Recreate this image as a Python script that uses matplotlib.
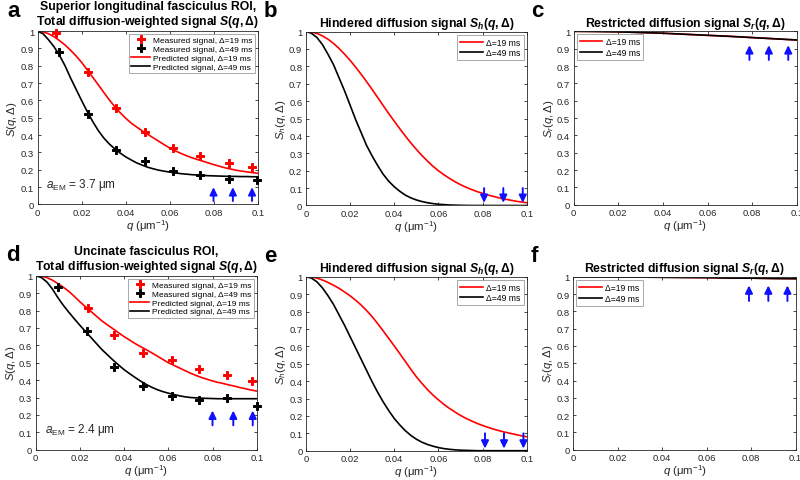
import matplotlib
matplotlib.use("Agg")
import matplotlib.pyplot as plt

plt.rcParams['font.family'] = ['Liberation Sans', 'DejaVu Sans']
plt.rcParams['mathtext.fontset'] = 'custom'
plt.rcParams['mathtext.rm'] = 'Liberation Sans'
plt.rcParams['mathtext.it'] = 'Liberation Sans:italic'
plt.rcParams['mathtext.bf'] = 'Liberation Sans:bold'
plt.rcParams['mathtext.bfit'] = 'Liberation Sans:bold:italic'

# ---------------- data ----------------
q_curve = [0, .0025, .005, .0075, .01, .0125, .015, .0175, .02, .0225, .025,
           .0275, .03, .0325, .035, .0375, .04, .0425, .045, .0475, .05,
           .0525, .055, .0575, .06, .0625, .065, .0675, .07, .0725, .075,
           .0775, .08, .0825, .085, .0875, .09, .0925, .095, .0975, .1]
q_coarse = [0, .01, .02, .03, .04, .05, .06, .07, .08, .09, .1]

# Panel a: superior longitudinal fasciculus
a_meas_q19 = [0.0082, 0.0229, 0.0355, 0.0486, 0.0617, 0.0739, 0.0869, 0.0975]
a_meas_S19 = [0.988, 0.763, 0.555, 0.418, 0.327, 0.282, 0.242, 0.218]
a_meas_q49 = [0.0098, 0.0227, 0.0355, 0.0486, 0.0617, 0.0739, 0.0869, 0.0996]
a_meas_S49 = [0.877, 0.524, 0.312, 0.253, 0.192, 0.168, 0.147, 0.142]
a_pred19 = [1.0, 0.996, 0.985, 0.968, 0.945, 0.92, 0.89, 0.857, 0.82, 0.778, 0.735,
            0.692, 0.648, 0.605, 0.565, 0.53, 0.498, 0.47, 0.447, 0.425, 0.405,
            0.385, 0.365, 0.345, 0.326, 0.31, 0.295, 0.282, 0.27, 0.26, 0.25,
            0.24, 0.23, 0.221, 0.212, 0.205, 0.198, 0.193, 0.188, 0.184, 0.18]
a_pred49 = [1.0, 0.985, 0.95, 0.91, 0.86, 0.80, 0.73, 0.665, 0.60, 0.538, 0.48,
            0.428, 0.385, 0.35, 0.322, 0.297, 0.275, 0.257, 0.24, 0.227, 0.215,
            0.206, 0.198, 0.192, 0.187, 0.182, 0.178, 0.175, 0.172, 0.17, 0.168,
            0.166, 0.165, 0.164, 0.163, 0.162, 0.162, 0.161, 0.161, 0.16, 0.16]

# Panel b: hindered signal (SLF)
b_h19 = [1.0, 0.997, 0.989, 0.975, 0.956, 0.932, 0.903, 0.87, 0.835, 0.796, 0.755,
         0.712, 0.667, 0.621, 0.575, 0.529, 0.485, 0.442, 0.40, 0.36, 0.323,
         0.288, 0.256, 0.226, 0.20, 0.177, 0.156, 0.137, 0.12, 0.105, 0.092,
         0.08, 0.07, 0.06, 0.052, 0.044, 0.037, 0.031, 0.025, 0.02, 0.016]
b_h49 = [1.0, 0.99, 0.966, 0.925, 0.87, 0.81, 0.735, 0.66, 0.578, 0.495, 0.42,
         0.345, 0.285, 0.23, 0.18, 0.14, 0.108, 0.082, 0.06, 0.044, 0.032,
         0.023, 0.016, 0.011, 0.007, 0.005, 0.003, 0.002, 0.001, 0.0005, 0.0,
         0.0, 0.0, 0.0, 0.0, 0.0, 0.0, 0.0, 0.0, 0.0, 0.0]

# Panel c: restricted signal (SLF)
c_r = [1.0, 0.999, 0.997, 0.993, 0.989, 0.983, 0.977, 0.971, 0.964, 0.957, 0.95]

# Panel d: uncinate fasciculus
d_meas_q19 = [0.0235, 0.0354, 0.0487, 0.0615, 0.074, 0.0867, 0.0977]
d_meas_S19 = [0.816, 0.657, 0.554, 0.515, 0.462, 0.427, 0.395]
d_meas_q49 = [0.0102, 0.0231, 0.0354, 0.0487, 0.0615, 0.074, 0.0867, 0.1]
d_meas_S49 = [0.935, 0.682, 0.475, 0.366, 0.309, 0.284, 0.299, 0.251]
d_pred19 = [1.0, 0.997, 0.99, 0.975, 0.955, 0.934, 0.91, 0.881, 0.85, 0.822, 0.795,
            0.767, 0.74, 0.717, 0.695, 0.672, 0.65, 0.63, 0.61, 0.592, 0.575,
            0.557, 0.538, 0.519, 0.50, 0.485, 0.47, 0.455, 0.44, 0.427, 0.415,
            0.405, 0.395, 0.387, 0.38, 0.372, 0.365, 0.357, 0.35, 0.343, 0.337]
d_pred49 = [1.0, 0.99, 0.965, 0.925, 0.875, 0.83, 0.79, 0.752, 0.715, 0.68, 0.645,
            0.61, 0.575, 0.545, 0.515, 0.487, 0.46, 0.437, 0.415, 0.394, 0.375,
            0.359, 0.345, 0.334, 0.325, 0.317, 0.31, 0.304, 0.30, 0.298, 0.296,
            0.295, 0.294, 0.293, 0.293, 0.293, 0.293, 0.293, 0.293, 0.293, 0.293]

# Panel e: hindered signal (UF)
e_h19 = [1.0, 0.998, 0.992, 0.981, 0.967, 0.951, 0.933, 0.912, 0.89, 0.865, 0.837,
         0.805, 0.77, 0.73, 0.688, 0.645, 0.602, 0.558, 0.513, 0.468, 0.425,
         0.387, 0.352, 0.32, 0.292, 0.266, 0.243, 0.222, 0.203, 0.186, 0.171,
         0.157, 0.145, 0.134, 0.124, 0.115, 0.107, 0.10, 0.093, 0.086, 0.08]
e_h49 = [1.0, 0.992, 0.97, 0.935, 0.89, 0.84, 0.78, 0.72, 0.655, 0.59, 0.525,
         0.46, 0.395, 0.335, 0.28, 0.23, 0.185, 0.148, 0.115, 0.088, 0.066,
         0.049, 0.036, 0.026, 0.018, 0.012, 0.008, 0.005, 0.003, 0.002, 0.001,
         0.0, 0.0, 0.0, 0.0, 0.0, 0.0, 0.0, 0.0, 0.0, 0.0]

# Panel f: restricted signal (UF)
f_r = [1.0, 1.0, 0.999, 0.998, 0.997, 0.996, 0.995, 0.993, 0.992, 0.99, 0.989]

# blue arrow annotations (q positions, start value, end value)
arrows_a = ([0.0799, 0.0887, 0.0974], 0.02, 0.10)
arrows_b = ([0.0807, 0.0894, 0.0982], 0.10, 0.015)
arrows_c = ([0.0788, 0.0875, 0.0962], 0.835, 0.92)
arrows_d = ([0.0800, 0.0894, 0.0982], 0.14, 0.225)
arrows_e = ([0.0811, 0.0897, 0.0985], 0.10, 0.012)
arrows_f = ([0.0790, 0.0877, 0.0963], 0.86, 0.95)

xticks = [0, 0.02, 0.04, 0.06, 0.08, 0.1]
xticklabels = ['0', '0.02', '0.04', '0.06', '0.08', '0.1']
yticks = [0, 0.1, 0.2, 0.3, 0.4, 0.5, 0.6, 0.7, 0.8, 0.9, 1.0]
yticklabels = ['0', '0.1', '0.2', '0.3', '0.4', '0.5', '0.6', '0.7', '0.8', '0.9', '1']

RED = '#ff0000'
BLK = '#000000'
BLUE = '#1010ff'
AXC = '#262626'

fig = plt.figure(figsize=(8.0, 4.81), dpi=100)

pos = {
    'a': [0.0469, 0.5728, 0.2753, 0.3604],
    'b': [0.3823, 0.5707, 0.2761, 0.3617],
    'c': [0.7171, 0.5723, 0.2788, 0.3605],
    'd': [0.0446, 0.0630, 0.2763, 0.3617],
    'e': [0.3825, 0.0609, 0.2759, 0.3617],
    'f': [0.7166, 0.0630, 0.2780, 0.3595],
}


def style(ax, ylabel):
    ax.set_xlim(0, 0.1)
    ax.set_ylim(0, 1)
    ax.set_xticks(xticks)
    ax.set_xticklabels(xticklabels)
    ax.set_yticks(yticks)
    ax.set_yticklabels(yticklabels)
    ax.tick_params(direction='in', top=True, right=True, length=2.5, width=0.6,
                   labelsize=6.8, colors=AXC, pad=2.5)
    for s in ax.spines.values():
        s.set_color(AXC)
        s.set_linewidth(0.6)
    ax.set_xlabel(r'$q$ ($\mathrm{\mu}$m$^{-1}$)', fontsize=8.2, labelpad=0, color=AXC)
    ax.set_ylabel(ylabel, fontsize=8.2, labelpad=1, color=AXC)


def arrows(ax, spec):
    qs, y0, y1 = spec
    for qv in qs:
        ax.annotate('', xy=(qv, y1), xytext=(qv, y0),
                    arrowprops=dict(arrowstyle='-|>,head_length=0.45,head_width=0.22',
                                    color=BLUE, lw=1.4, shrinkA=0, shrinkB=0))


def letter(ax, ch, dx):
    ax.text(dx, 1.06, ch, transform=ax.transAxes, fontsize=16, fontweight='bold',
            ha='left', va='bottom')


def total_panel(ax, mq19, mS19, mq49, mS49, p19, p49, title, aem, arr, ch):
    ax.plot(mq19, mS19, linestyle='none', marker='P', color=RED, markersize=6.0,
            markeredgewidth=0.7, markeredgecolor=RED,
            label='Measured signal, Δ=19 ms', clip_on=False, zorder=3)
    ax.plot(mq49, mS49, linestyle='none', marker='P', color=BLK, markersize=6.0,
            markeredgewidth=0.7, markeredgecolor=BLK,
            label='Measured signal, Δ=49 ms', clip_on=False, zorder=3)
    ax.plot(q_curve, p19, color=RED, lw=1.2, label='Predicted signal, Δ=19 ms')
    ax.plot(q_curve, p49, color=BLK, lw=1.2, label='Predicted signal, Δ=49 ms')
    style(ax, r'$S(q,\Delta)$')
    leg = ax.legend(loc='upper right', fontsize=6.0, frameon=True, fancybox=False,
                    borderpad=0.3, labelspacing=0.12, handlelength=2.3, handletextpad=0.3,
                    borderaxespad=0.35, markerfirst=True)
    leg.get_frame().set_edgecolor('#808080')
    leg.get_frame().set_linewidth(0.6)
    ax.text(0.004, 0.12, r'$a_{\mathrm{EM}}$ = ' + aem, fontsize=8.5, color=AXC,
            ha='left', va='center')
    arrows(ax, arr)
    ax.set_title(title, fontsize=8.8, fontweight='bold', pad=5, linespacing=1.1)
    letter(ax, ch, -0.135)


def two_curve_panel(ax, qv, y19, y49, title, ylabel, arr, ch, legloc):
    ax.plot(qv, y19, color=RED, lw=1.2, label='Δ=19 ms')
    ax.plot(qv, y49, color=BLK, lw=1.2, label='Δ=49 ms')
    style(ax, ylabel)
    leg = ax.legend(loc=legloc, fontsize=6.2, frameon=True, fancybox=False,
                    borderpad=0.35, labelspacing=0.2, handlelength=2.6, handletextpad=0.4,
                    borderaxespad=0.35)
    leg.get_frame().set_edgecolor('#808080')
    leg.get_frame().set_linewidth(0.6)
    arrows(ax, arr)
    ax.set_title(title, fontsize=8.8, fontweight='bold', pad=4)
    letter(ax, ch, -0.19)


ax_a = fig.add_axes(pos['a'])
total_panel(ax_a, a_meas_q19, a_meas_S19, a_meas_q49, a_meas_S49, a_pred19, a_pred49,
            'Superior longitudinal fasciculus ROI,\nTotal diffusion-weighted signal '
            r'$\mathbfit{S}\mathbf{(}\mathbfit{q}\mathbf{,\Delta)}$',
            '3.7 μm', arrows_a, 'a')

ax_b = fig.add_axes(pos['b'])
two_curve_panel(ax_b, q_curve, b_h19, b_h49,
                r'Hindered diffusion signal $\mathbfit{S}_{\mathbfit{h}}\mathbf{(}\mathbfit{q}\mathbf{,\Delta)}$',
                r'$S_h(q,\Delta)$', arrows_b, 'b', 'upper right')

ax_c = fig.add_axes(pos['c'])
two_curve_panel(ax_c, q_coarse, c_r, c_r,
                r'Restricted diffusion signal $\mathbfit{S}_{\mathbfit{r}}\mathbf{(}\mathbfit{q}\mathbf{,\Delta)}$',
                r'$S_r(q,\Delta)$', arrows_c, 'c', 'upper left')

ax_d = fig.add_axes(pos['d'])
total_panel(ax_d, d_meas_q19, d_meas_S19, d_meas_q49, d_meas_S49, d_pred19, d_pred49,
            'Uncinate fasciculus ROI,\nTotal diffusion-weighted signal '
            r'$\mathbfit{S}\mathbf{(}\mathbfit{q}\mathbf{,\Delta)}$',
            '2.4 μm', arrows_d, 'd')

ax_e = fig.add_axes(pos['e'])
two_curve_panel(ax_e, q_curve, e_h19, e_h49,
                r'Hindered diffusion signal $\mathbfit{S}_{\mathbfit{h}}\mathbf{(}\mathbfit{q}\mathbf{,\Delta)}$',
                r'$S_h(q,\Delta)$', arrows_e, 'e', 'upper right')

ax_f = fig.add_axes(pos['f'])
two_curve_panel(ax_f, q_coarse, f_r, f_r,
                r'Restricted diffusion signal $\mathbfit{S}_{\mathbfit{r}}\mathbf{(}\mathbfit{q}\mathbf{,\Delta)}$',
                r'$S_r(q,\Delta)$', arrows_f, 'f', 'upper left')

fig.savefig('out.png', dpi=100)
